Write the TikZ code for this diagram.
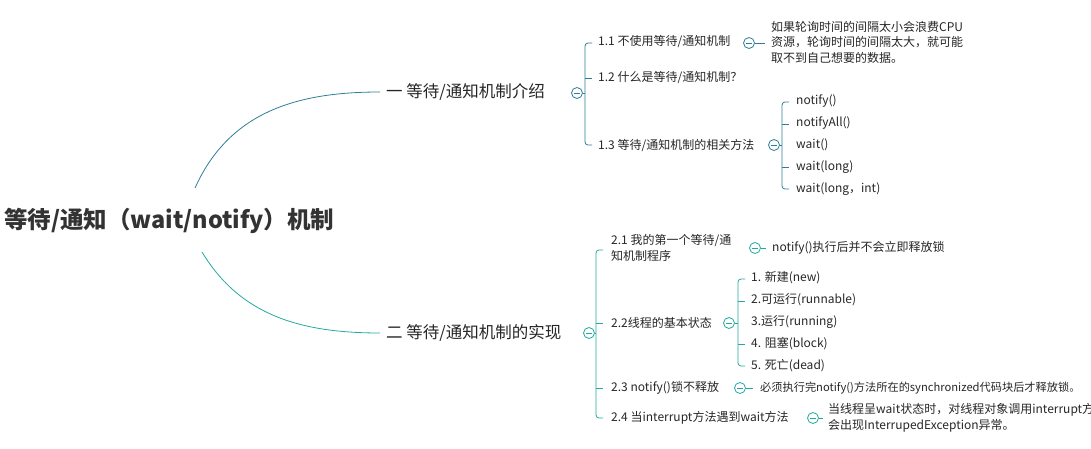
\documentclass[tikz,border=0pt]{standalone}
\usepackage{fontspec}
\setmainfont{Noto Sans CJK SC}
\begin{document}
\begin{tikzpicture}[x=1pt,y=-1pt,
  t/.style={anchor=west,inner sep=0,font=\fontsize{12}{15.5}\selectfont,text=black!85},
  b/.style={anchor=west,inner sep=0,font=\fontsize{16.5}{19}\selectfont,text=black!85},
  ca/.style={draw=cA,line width=0.8pt},
  cb/.style={draw=cB,line width=0.8pt},
  tog/.style={circle,draw,line width=0.8pt,minimum size=11pt,inner sep=0,fill=white,
    path picture={\draw[line width=0.7pt] ([xshift=-3pt]path picture bounding box.center)--([xshift=3pt]path picture bounding box.center);}}]
\definecolor{cA}{HTML}{2E7E96}
\definecolor{cB}{HTML}{22AAA0}
\useasboundingbox (0,0) rectangle (1091,449);
\node[anchor=west,inner sep=0,font=\fontsize{23.5}{26}\selectfont\bfseries,text=black!80] (root) at (4,221) {等待/通知（wait/notify）机制};
% branch 1
\node[b] (b1) at (386,92) {一 等待/通知机制介绍};
\draw[ca] (195,188) .. controls (230,110) and (300,92) .. (380,92);
\node[tog,draw=cA] (g1) at (577,93) {};
\draw[ca] (g1) -- (585,93);
\draw[ca,rounded corners=3] (592,43) -- (585,43) -- (585,145) -- (592,145);
\draw[ca] (585,78) -- (592,78);
\node[t] (n11) at (598,42) {1.1 不使用等待/通知机制};
\node[t] (n12) at (598,78) {1.2 什么是等待/通知机制？};
\node[t] (n13) at (598,145) {1.3 等待/通知机制的相关方法};
\node[tog,draw=cA] (g11) at (749,43) {};
\draw[ca] (g11) -- (765,43);
\node[t,align=left] (d11) at (771,42) {如果轮询时间的间隔太小会浪费CPU\\资源，轮询时间的间隔太大，就可能\\取不到自己想要的数据。};
\node[tog,draw=cA] (g13) at (774,145) {};
\draw[ca] (g13) -- (782,145);
\draw[ca,rounded corners=3] (789,102) -- (782,102) -- (782,189) -- (789,189);
\draw[ca] (782,124) -- (789,124);
\draw[ca] (782,167) -- (789,167);
\node[t] (m1) at (796,101) {notify()};
\node[t] (m2) at (796,123) {notifyAll()};
\node[t] (m3) at (796,145) {wait()};
\node[t] (m4) at (796,167) {wait(long)};
\node[t] (m5) at (796,189) {wait(long，int)};
% branch 2
\node[b] (b2) at (386,333) {二 等待/通知机制的实现};
\draw[cb] (202,252) .. controls (240,315) and (300,333) .. (380,333);
\node[tog,draw=cB] (g2) at (589,333) {};
\draw[cb] (g2) -- (596,333);
\draw[cb,rounded corners=3] (603,250) -- (596,250) -- (596,418) -- (603,418);
\draw[cb] (596,323) -- (603,323);
\draw[cb] (596,388) -- (603,388);
\node[t,align=left] (n21) at (611,248) {2.1 我的第一个等待/通\\知机制程序};
\node[t] (n22) at (611,323) {2.2线程的基本状态};
\node[t] (n23) at (611,388) {2.3 notify()锁不释放};
\node[t] (n24) at (611,418) {2.4 当interrupt方法遇到wait方法};
\node[tog,draw=cB] (g21) at (755,248) {};
\draw[cb] (g21) -- (766,248);
\node[t] (d21) at (772,248) {notify()执行后并不会立即释放锁};
\node[tog,draw=cB] (g22) at (729,323) {};
\draw[cb] (g22) -- (738,323);
\draw[cb,rounded corners=3] (745,279) -- (738,279) -- (738,366) -- (745,366);
\draw[cb] (738,301) -- (745,301);
\draw[cb] (738,344) -- (745,344);
\node[t] (s1) at (751,278) {1. 新建(new)};
\node[t] (s2) at (751,300) {2.可运行(runnable)};
\node[t] (s3) at (751,322) {3.运行(running)};
\node[t] (s4) at (751,344) {4. 阻塞(block)};
\node[t] (s5) at (751,366) {5. 死亡(dead)};
\node[tog,draw=cB] (g23) at (740,388) {};
\draw[cb] (g23) -- (753,388);
\node[t,font=\fontsize{11.2}{14}\selectfont] (d23) at (760,388) {必须执行完notify()方法所在的synchronized代码块后才释放锁。};
\node[tog,draw=cB] (g24) at (813,418) {};
\draw[cb] (g24) -- (823,418);
\begin{scope}
\clip (0,0) rectangle (1091,449);
\node[t,align=left] (d24) at (828,418) {当线程呈wait状态时，对线程对象调用interrupt方法\\会出现InterrupedException异常。};
\end{scope}
\end{tikzpicture}
\end{document}
